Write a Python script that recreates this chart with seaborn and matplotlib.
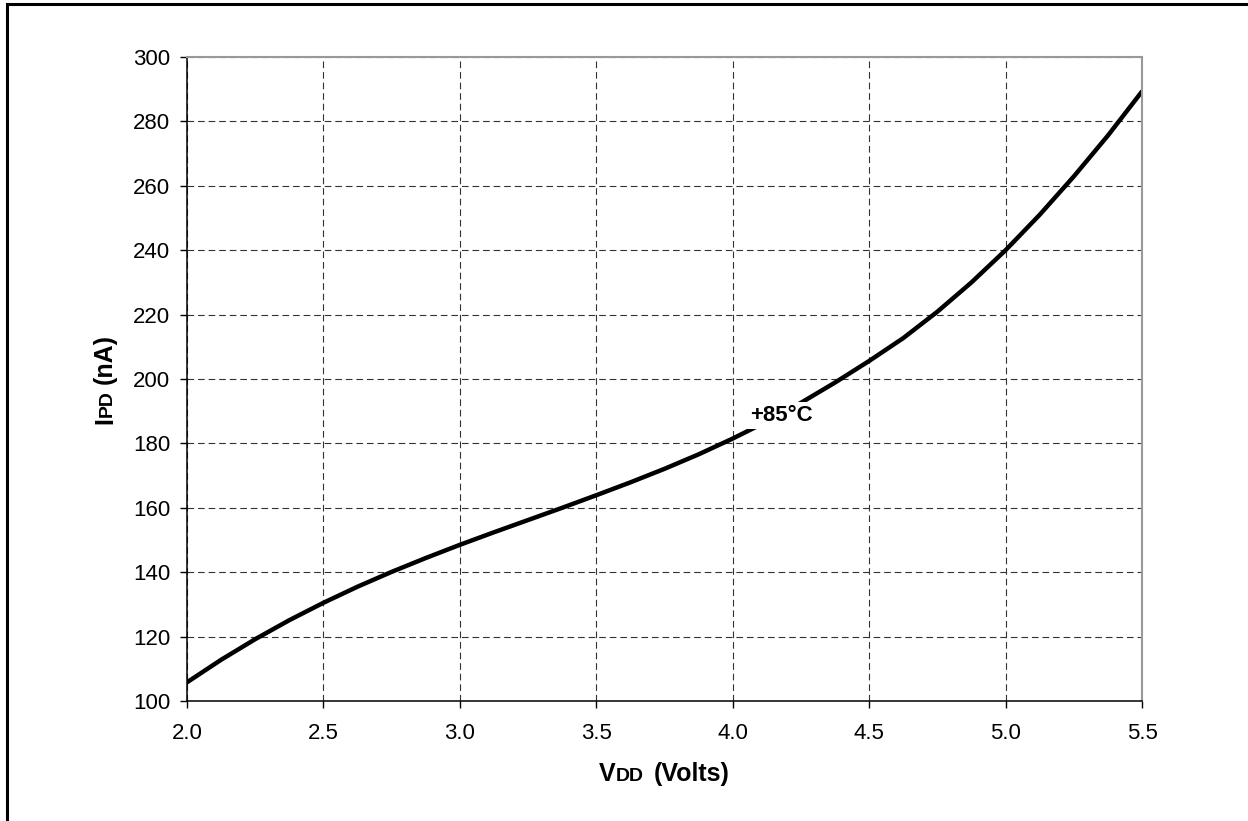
import numpy as np
import pandas as pd
import seaborn as sns
import matplotlib.pyplot as plt
from matplotlib.patches import Rectangle
from matplotlib.transforms import IdentityTransform

# IPD vs VDD at +85C
vdd = [2.0, 2.125, 2.25, 2.375, 2.5, 2.625, 2.75, 2.875, 3.0, 3.125, 3.25, 3.375, 3.5, 3.625,
       3.75, 3.875, 4.0, 4.125, 4.25, 4.375, 4.5, 4.625, 4.75, 4.875, 5.0, 5.125, 5.25, 5.375, 5.5]
ipd = [105.8, 112.8, 119.2, 125.1, 130.5, 135.5, 140.1, 144.4, 148.5, 152.4, 156.2, 160.0, 163.9, 167.9,
       172.1, 176.6, 181.5, 186.8, 192.6, 198.9, 205.6, 212.7, 220.9, 230.0, 240.0, 251.0, 262.9, 275.6, 289.3]
xticks = [2.0, 2.5, 3.0, 3.5, 4.0, 4.5, 5.0, 5.5]
yticks = list(range(100, 301, 20))

df = pd.DataFrame({"VDD": vdd, "IPD": ipd})

sns.set_style("white")
plt.rcParams['font.family'] = ['Liberation Sans', 'DejaVu Sans']

W, H = 1248, 821
fig = plt.figure(figsize=(W / 100, H / 100), dpi=100)
ax = fig.add_axes([187/W, 1 - 701/H, (1142-187)/W, (701-57)/H])

# outer frame of the figure
fig.patches.append(Rectangle((7/W, -0.1), 1.2, 1 - 4/H + 0.1, transform=fig.transFigure,
                             fill=False, edgecolor='black', linewidth=2.2))

sns.lineplot(data=df, x="VDD", y="IPD", ax=ax, color='black', linewidth=3.2)
ax.lines[0].set_solid_joinstyle('round')

ax.set_xlim(2.0, 5.5)
ax.set_ylim(100, 300)
ax.set_xticks(xticks)
ax.set_xticklabels([f"{t:.1f}" for t in xticks])
ax.set_yticks(yticks)
ax.tick_params(axis='both', labelsize=16, direction='out', length=5, width=1,
               colors='black', labelcolor='black', left=True, bottom=True)
ax.tick_params(axis='x', pad=11)
ax.tick_params(axis='y', pad=7)
ax.grid(True, linestyle=(0, (6, 3.5)), color='#333333', linewidth=0.8)

for s in ['left', 'bottom']:
    ax.spines[s].set_color('black')
    ax.spines[s].set_linewidth(1.1)
for s in ['top', 'right']:
    ax.spines[s].set_color('#999999')
    ax.spines[s].set_linewidth(1.5)
ax.set_xlabel("")
ax.set_ylabel("")

ax.text(4.177, 188.7, "+85°C", fontsize=16, fontweight='bold', ha='center', va='center',
        color='black', bbox=dict(facecolor='white', edgecolor='none', pad=2))


# axis titles with small-caps subscripts (VDD, IPD), laid out piece by piece in pixels
def label_pieces(pieces, cx, cy, vertical=False):
    renderer = fig.canvas.get_renderer()
    rot = 90 if vertical else 0
    texts, lengths = [], []
    for s, size, gap in pieces:
        t = fig.text(0, 0, s, fontsize=size, fontweight='bold', color='black', rotation=rot,
                     rotation_mode='anchor', ha='left', va='baseline', transform=IdentityTransform())
        bb = t.get_window_extent(renderer)
        texts.append(t)
        lengths.append((bb.height if vertical else bb.width) + gap)
    pos = -sum(lengths) / 2
    for t, L in zip(texts, lengths):
        if vertical:
            t.set_position((cx, cy + pos))
        else:
            t.set_position((cx + pos, cy))
        pos += L


label_pieces([("V", 18, 0), ("DD", 14, 10), ("(Volts)", 18, 0)], 664.5, H - 781)
label_pieces([("I", 18, 1), ("PD", 14, 6), ("(nA)", 18, 0)], 112, H - 379, vertical=True)

fig.savefig("out.png", dpi=100)
